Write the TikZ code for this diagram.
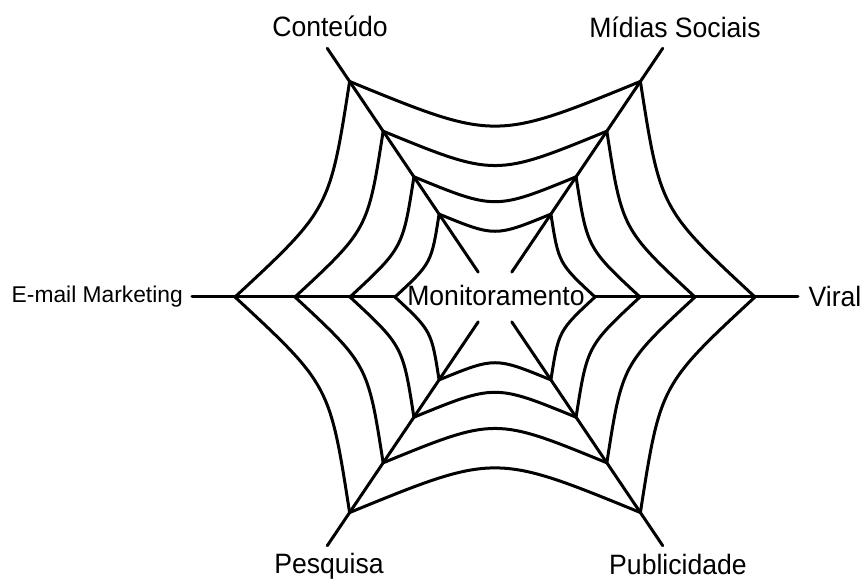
\documentclass[tikz,border=0pt]{standalone}
\usepackage{fontspec}
\setmainfont{Liberation Sans}
\newfontfamily\narrowfont[FakeStretch=0.95]{Liberation Sans}
\usepackage{tikz}
\usetikzlibrary{positioning}

\tikzset{
    web/.style={line width=3pt, line cap=round, line join=round},
    webtext/.style={font=\narrowfont\fontsize{28}{32}\selectfont, anchor=base}
}

\begin{document}
\begin{tikzpicture}[x=1pt, y=1pt,
    every node/.style={inner sep=0pt, align=center}
]
\useasboundingbox (-495,-284) rectangle (373,297);

% spokes
\draw[web] (56:30) -- (56:300) coordinate (midiasend);
\draw[web] (124:30) -- (124:300) coordinate (conteudoend);
\draw[web] (236:30) -- (236:300) coordinate (pesquisaend);
\draw[web] (304:30) -- (304:300) coordinate (publicidadeend);
\draw[web] (180:100) -- (180:303) coordinate (emailend);
\draw[web] (0:100) -- (0:303) coordinate (viralend);

% rings, each side sagging towards the centre
\foreach \r in {260,200,145,100} {
    \foreach \a/\b/\k in {0/56/0.72, 56/124/0.6, 124/180/0.72,
                          180/236/0.72, 236/304/0.6, 304/360/0.72} {
        \draw[web] (\a:\r) .. controls ({(\a+\b)/2}:{\k*\r}) .. (\b:\r);
    }
}

% labels
\node[webtext] (conteudo) at (-165,260) {Conteúdo};
\node[webtext] (midias) at (180,259) {Mídias Sociais};
\node[webtext] (viral) at (340,-10) {Viral};
\node[webtext] (publicidade) at (183,-277) {Publicidade};
\node[webtext] (pesquisa) at (-166,-276) {Pesquisa};
\node[font=\fontsize{22.8}{26}\selectfont, left=9pt of emailend] (email) {E-mail Marketing};
\node[webtext] (monitoramento) at (1,-9) {Monitoramento};
\end{tikzpicture}
\end{document}
